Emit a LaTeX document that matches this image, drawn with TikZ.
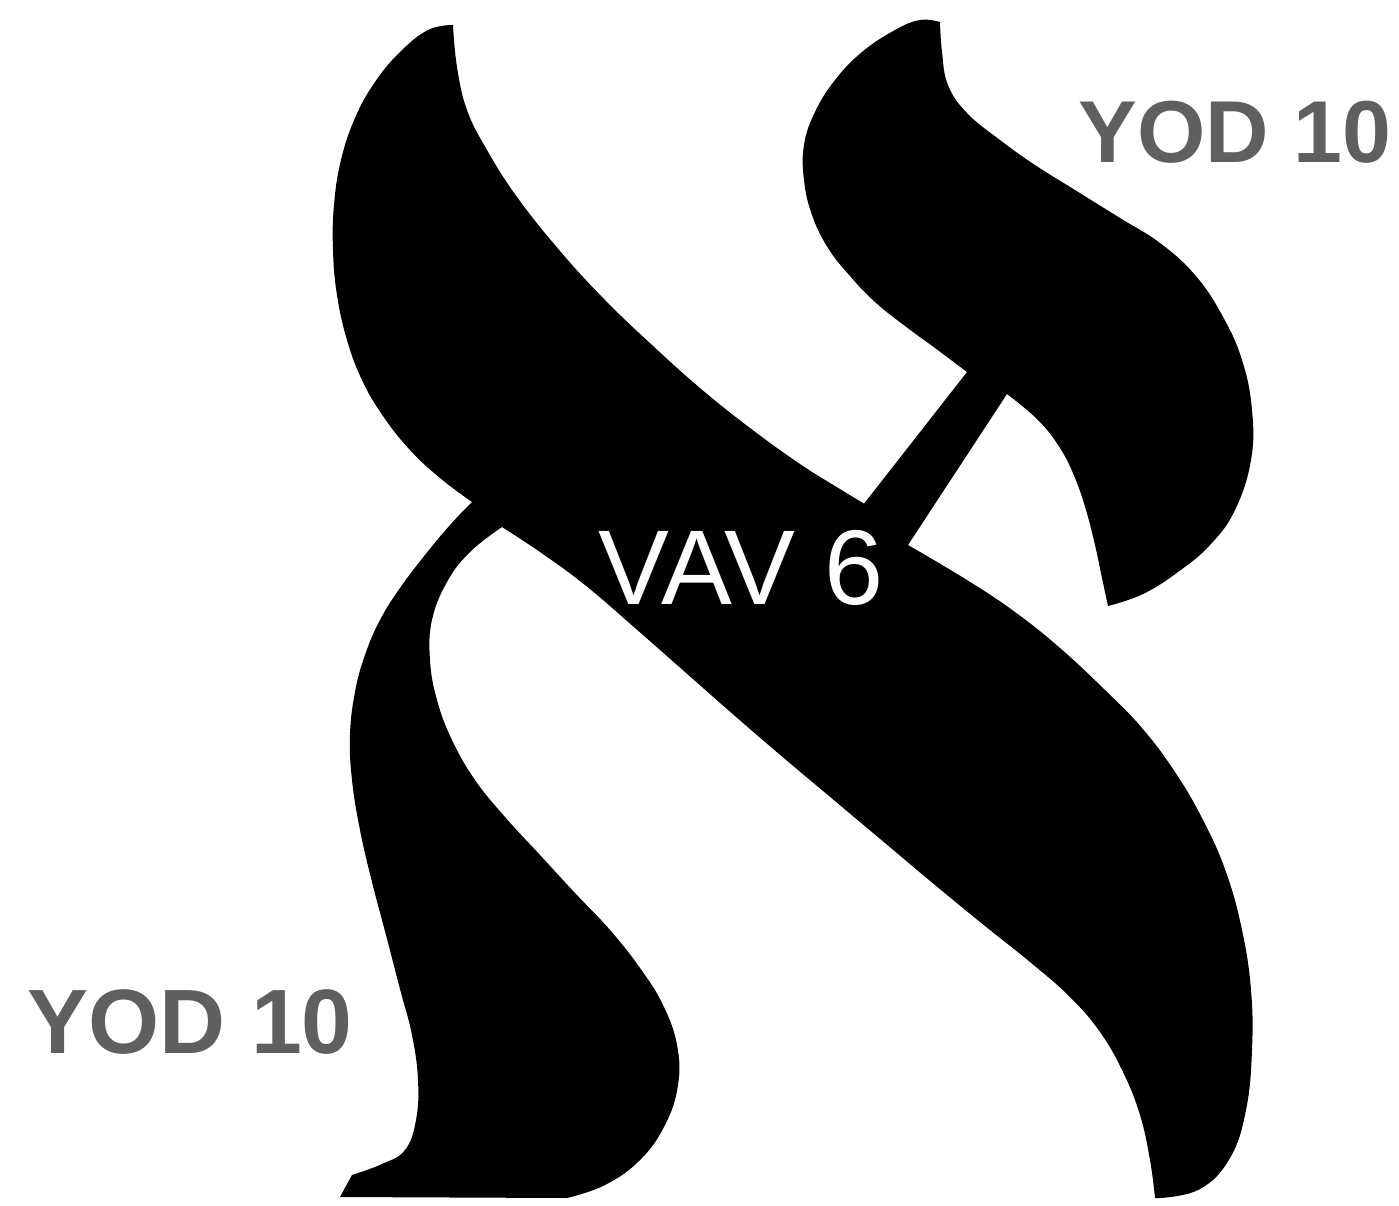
\documentclass[tikz,border=0pt]{standalone}
\usepackage{fontspec}
\setmainfont{Liberation Sans}
\usepackage{xcolor}
\definecolor{Ink}{HTML}{000000}
\definecolor{Slate}{HTML}{5F5F5F}

\begin{document}
\begin{tikzpicture}[x=0.01cm,y=-0.01cm,
  ink/.style={fill=Ink,draw=none},
  curve/.style={smooth,tension=0.7},
  yodlabel/.style={font=\fontsize{26}{30}\selectfont\bfseries,text=Slate,inner sep=0pt,anchor=base west},
  vavlabel/.style={font=\fontsize{30.2}{34}\selectfont,text=white,inner sep=0pt,anchor=base west}
]
\fill[white] (0,0) rectangle (1399,1205);
\useasboundingbox (0,0) rectangle (1399,1205);
\fill[ink] plot[curve] coordinates {(453,25) (457,67) (467,110) (487,150) (517,197) (560,251) (605,300) (652,345) (700,388) (750,428) (800,464) (835,486) (863,503)}
  -- plot[curve] coordinates {(908,545) (967,580) (1015,612) (1060,648) (1105,690) (1142,728) (1175,772) (1203,820) (1226,872) (1242,930) (1251,990) (1252,1050) (1246,1110) (1230,1158) (1200,1189) (1160,1198)}
  -- plot[curve] coordinates {(1155,1198) (1150,1160) (1140,1115) (1123,1072) (1100,1032) (1070,997) (1030,962) (985,926) (935,885) (885,843) (835,801) (785,759) (735,716) (685,672) (635,628) (585,585) (540,552) (502,527)}
  -- plot[curve] coordinates {(472,502) (440,478) (410,450) (383,416) (362,380) (347,340) (337,295) (333,250) (334,205) (341,160) (355,118) (375,82) (400,52) (428,30) (453,25)}
  -- cycle;
\fill[ink] plot[curve] coordinates {(472,502) (450,525) (425,555) (400,588) (380,620) (365,655) (355,692) (350,735) (352,780) (360,830) (372,882) (386,935) (400,989) (412,1035) (418,1080) (416,1120) (405,1150) (382,1164) (352,1175)}
  -- (340,1197) -- (567,1198)
  -- plot[curve] coordinates {(567,1198) (605,1185) (640,1160) (665,1125) (678,1085) (677,1045) (663,1005) (640,968) (610,930) (575,893) (540,855) (505,817) (475,780) (452,740) (437,700) (430,660) (432,620) (447,582) (470,552) (502,527)}
  -- (520,505) -- cycle;
\fill[ink] (845,528) -- (985,349) -- (1024,368) -- (891,571) -- cycle;
\fill[ink] plot[curve] coordinates {(940,22) (942,52) (948,85) (967,113) (1000,140) (1035,165) (1075,190) (1120,218) (1160,243) (1195,275) (1222,315) (1242,360) (1252,410) (1251,460) (1235,510) (1210,545) (1178,572) (1143,594) (1108,606)}
  -- plot[curve] coordinates {(1108,606) (1102,578) (1095,545) (1086,510) (1075,478) (1060,448) (1038,420) (1007,394)}
  -- (967,372)
  -- plot[curve] coordinates {(967,372) (935,348) (905,326) (875,302) (850,276) (828,248) (812,215) (804,180) (804,145) (815,112) (835,80) (862,52) (895,30) (920,20) (940,22)}
  -- cycle;
\node[yodlabel,font=\fontsize{25}{30}\selectfont\bfseries] (yodTop) at (1078,162) {YOD 10};
\node[yodlabel] (yodLow) at (27,1053) {YOD 10};
\node[vavlabel] (vav) at (598,604) {VAV 6};
\end{tikzpicture}
\end{document}
